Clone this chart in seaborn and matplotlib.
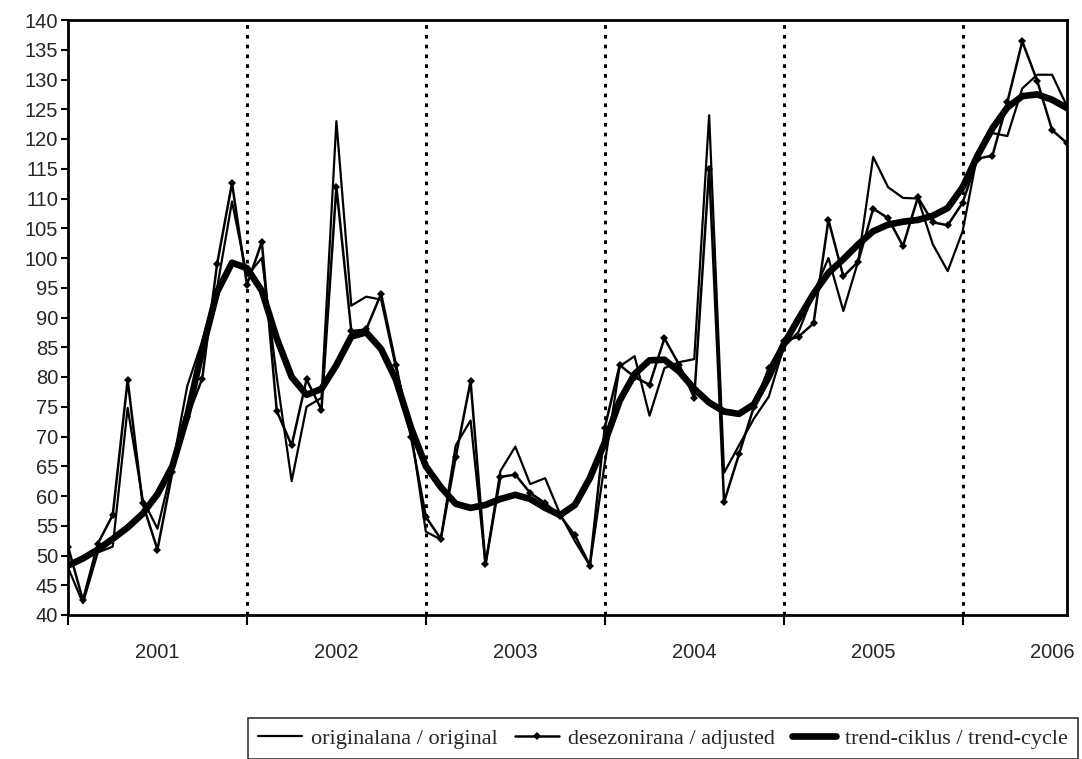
import matplotlib
matplotlib.use('Agg')
import matplotlib.pyplot as plt
import seaborn as sns
import pandas as pd
import numpy as np

sns.set_style("white")
plt.rcParams['font.family'] = ['Liberation Sans', 'DejaVu Sans']

# monthly index, Jan 2001 - Aug 2006
months = pd.date_range('2001-01-01', periods=68, freq='MS')
years = ['2001', '2002', '2003', '2004', '2005', '2006']

original = [48, 42, 50.5, 51.5, 74.8, 59.5, 54.5, 65, 78.5, 86, 95, 109.5,
            97, 100, 80, 62.5, 75, 76.5, 123, 92, 93.5, 93, 81.5, 71,
            54, 52.7, 68.5, 72.7, 48.5, 64.2, 68.3, 62, 63, 57, 52.4, 48.3,
            65.5, 81.8, 83.5, 73.5, 81.5, 82.5, 83, 124, 63.9, 68.5, 73, 76.7,
            85, 87.6, 94, 100, 91.1, 99.5, 117, 111.9, 110.1, 110, 102.3, 97.8,
            104.5, 117.5, 121, 120.5, 128.5, 130.8, 130.8, 125.5]

adjusted = [51.5, 42.5, 52, 56.8, 79.5, 58.8, 51, 64, 73.2, 79.7, 99, 112.6,
            95.5, 102.7, 74.3, 68.5, 79.6, 74.5, 112, 87.7, 88, 94, 82, 70,
            56.5, 52.8, 66.5, 79.3, 48.5, 63.2, 63.6, 60.5, 58.8, 56.7, 53.4, 48.3,
            71.5, 82, 80, 78.7, 86.5, 82, 76.5, 115, 59, 67, 75, 81.5,
            86, 86.8, 89, 106.4, 96.9, 99.4, 108.3, 106.7, 102, 110.2, 106, 105.5,
            109.3, 116.7, 117.2, 126.2, 136.4, 129.8, 121.5, 119.3]

trend = [48.3, 49.5, 51, 52.8, 54.7, 57, 60.3, 65, 73.5, 84.5, 94.3, 99.2,
         98.3, 94.5, 86.5, 80, 77, 78, 82, 86.8, 87.5, 84.7, 79.5, 71.5,
         65, 61.5, 58.7, 58, 58.5, 59.5, 60.2, 59.5, 58, 56.8, 58.5, 63,
         69, 76, 80.5, 82.8, 82.9, 80.9, 78, 75.7, 74.2, 73.8, 75.4, 80,
         85.5, 89.8, 94, 97.5, 99.8, 102.3, 104.5, 105.6, 106.1, 106.4, 107.1, 108.4,
         111.9, 117.2, 121.8, 125.3, 127.2, 127.5, 126.6, 125.2]

labels = ['originalana / original', 'desezonirana / adjusted', 'trend-ciklus / trend-cycle']

df = pd.DataFrame({'t': np.arange(len(months)), 'original': original,
                   'adjusted': adjusted, 'trend': trend})

fig = plt.figure(figsize=(10.82, 7.59), dpi=100)
ax = fig.add_axes([68/1082, 1-615/759, (1067-68)/1082, (615-20)/759])

sns.lineplot(data=df, x='t', y='original', ax=ax, color='black', linewidth=1.6, label=labels[0])
sns.lineplot(data=df, x='t', y='adjusted', ax=ax, color='black', linewidth=1.8,
             marker='D', markersize=4, markeredgewidth=0, label=labels[1])
sns.lineplot(data=df, x='t', y='trend', ax=ax, color='black', linewidth=4.8, label=labels[2])

# year boundaries
jan_idx = [i for i, m in enumerate(months) if m.month == 1]
for i in jan_idx[1:]:
    ax.axvline(i, color='black', linestyle=(0, (1.2, 2.0)), linewidth=2.2, zorder=0)

ax.set_xlim(0, len(months) - 1)
ax.set_ylim(40, 140)
ax.set_yticks(np.arange(40, 141, 5))
ax.set_xticks(jan_idx)
ax.set_xticklabels([])
jul_idx = [i for i, m in enumerate(months) if m.month == 7]
ax.set_xticks(jul_idx, minor=True)
ax.set_xticklabels(years, minor=True)
ax.set_xlabel('')
ax.set_ylabel('')

ax.tick_params(axis='y', which='major', direction='out', length=5, width=1.5, pad=2,
               labelsize=14.5, left=True, color='black')
ax.tick_params(axis='x', which='major', direction='out', length=7, width=1.5, bottom=True, color='black')
ax.tick_params(axis='x', which='minor', length=0, pad=20, labelsize=14.5)

for s in ax.spines.values():
    s.set_color('black')
    s.set_linewidth(2)

ax.get_legend().remove()
h, l = ax.get_legend_handles_labels()
leg = fig.legend(h, l, loc='lower left', bbox_to_anchor=(248/1082, 0.0, 830/1082, 42/759),
                 mode='expand', ncol=3, frameon=True, fancybox=False, borderaxespad=0,
                 handlelength=2.0, handletextpad=0.4, columnspacing=0.8, borderpad=0.45,
                 prop={'family': 'Liberation Serif', 'size': 16})
leg.get_frame().set_edgecolor('black')
leg.get_frame().set_linewidth(1.2)

fig.savefig('out.png', dpi=100)
